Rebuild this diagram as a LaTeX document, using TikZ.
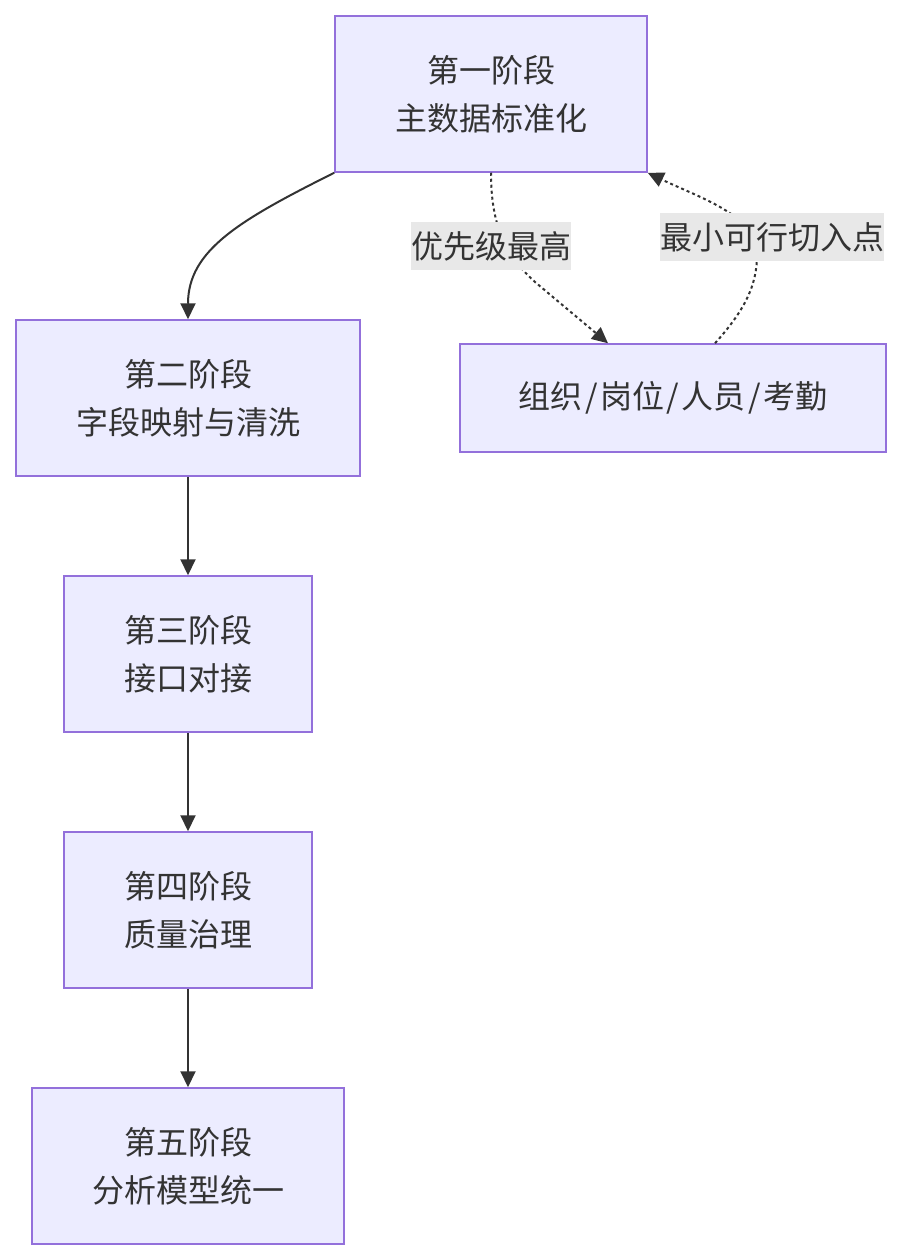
\documentclass[tikz,border=0pt]{standalone}
\usepackage{fontspec}
\newfontfamily\cjk{Noto Sans CJK SC}
\usetikzlibrary{arrows.meta,positioning}
\definecolor{boxfill}{HTML}{ECECFF}
\definecolor{boxline}{HTML}{9370DB}
\definecolor{ink}{HTML}{333333}
\definecolor{labelbg}{HTML}{E8E8E8}
\newcommand{\sep}{\hspace{2.5pt}/\hspace{2.5pt}}
\begin{document}
\begin{tikzpicture}[x=1pt,y=-1pt,>={Triangle[length=16pt,width=15pt]},
  every node/.style={font=\cjk\fontsize{32}{48}\selectfont,text=ink,align=center},
  stage/.style={draw=boxline,fill=boxfill,line width=1.5pt,inner sep=0pt,minimum height=156pt},
  tag/.style={fill=labelbg,inner sep=0pt,minimum height=48pt},
  flow/.style={draw=ink,line width=2pt,->},
  hint/.style={flow,dash pattern=on 3pt off 3pt}]
\useasboundingbox (0,0) rectangle (902,1260);
\node[stage,minimum width=312pt] (s1) at (491,94) {第一阶段\\主数据标准化};
\node[stage,minimum width=344pt] (s2) at (188,398) {第二阶段\\字段映射与清洗};
\node[stage,minimum width=248pt,below=98.5pt of s2] (s3) {第三阶段\\接口对接};
\node[stage,minimum width=248pt,below=98.5pt of s3] (s4) {第四阶段\\质量治理};
\node[stage,minimum width=312pt,below=98.5pt of s4] (s5) {第五阶段\\分析模型统一};
\node[stage,minimum width=426pt,minimum height=108pt] (org) at (673,398) {组织\sep 岗位\sep 人员\sep 考勤};
\draw[flow] (s1.south west) .. controls (240,220) and (188,250) .. (s2.north);
\draw[flow] (s2) -- (s3);
\draw[flow] (s3) -- (s4);
\draw[flow] (s4) -- (s5);
\draw[hint] (s1.south) .. controls (491,225) and (505,255) .. (535,282) -- ([xshift=-65pt]org.north);
\draw[hint] ([xshift=42pt]org.north) .. controls (745,310) and (757,285) .. (757,255)
  .. controls (757,215) and (700,198) .. (s1.south east);
\node[tag] (l1) at (491,246) {优先级最高};
\node[tag] (l2) at (772,237) {最小可行切入点};
\end{tikzpicture}
\end{document}
